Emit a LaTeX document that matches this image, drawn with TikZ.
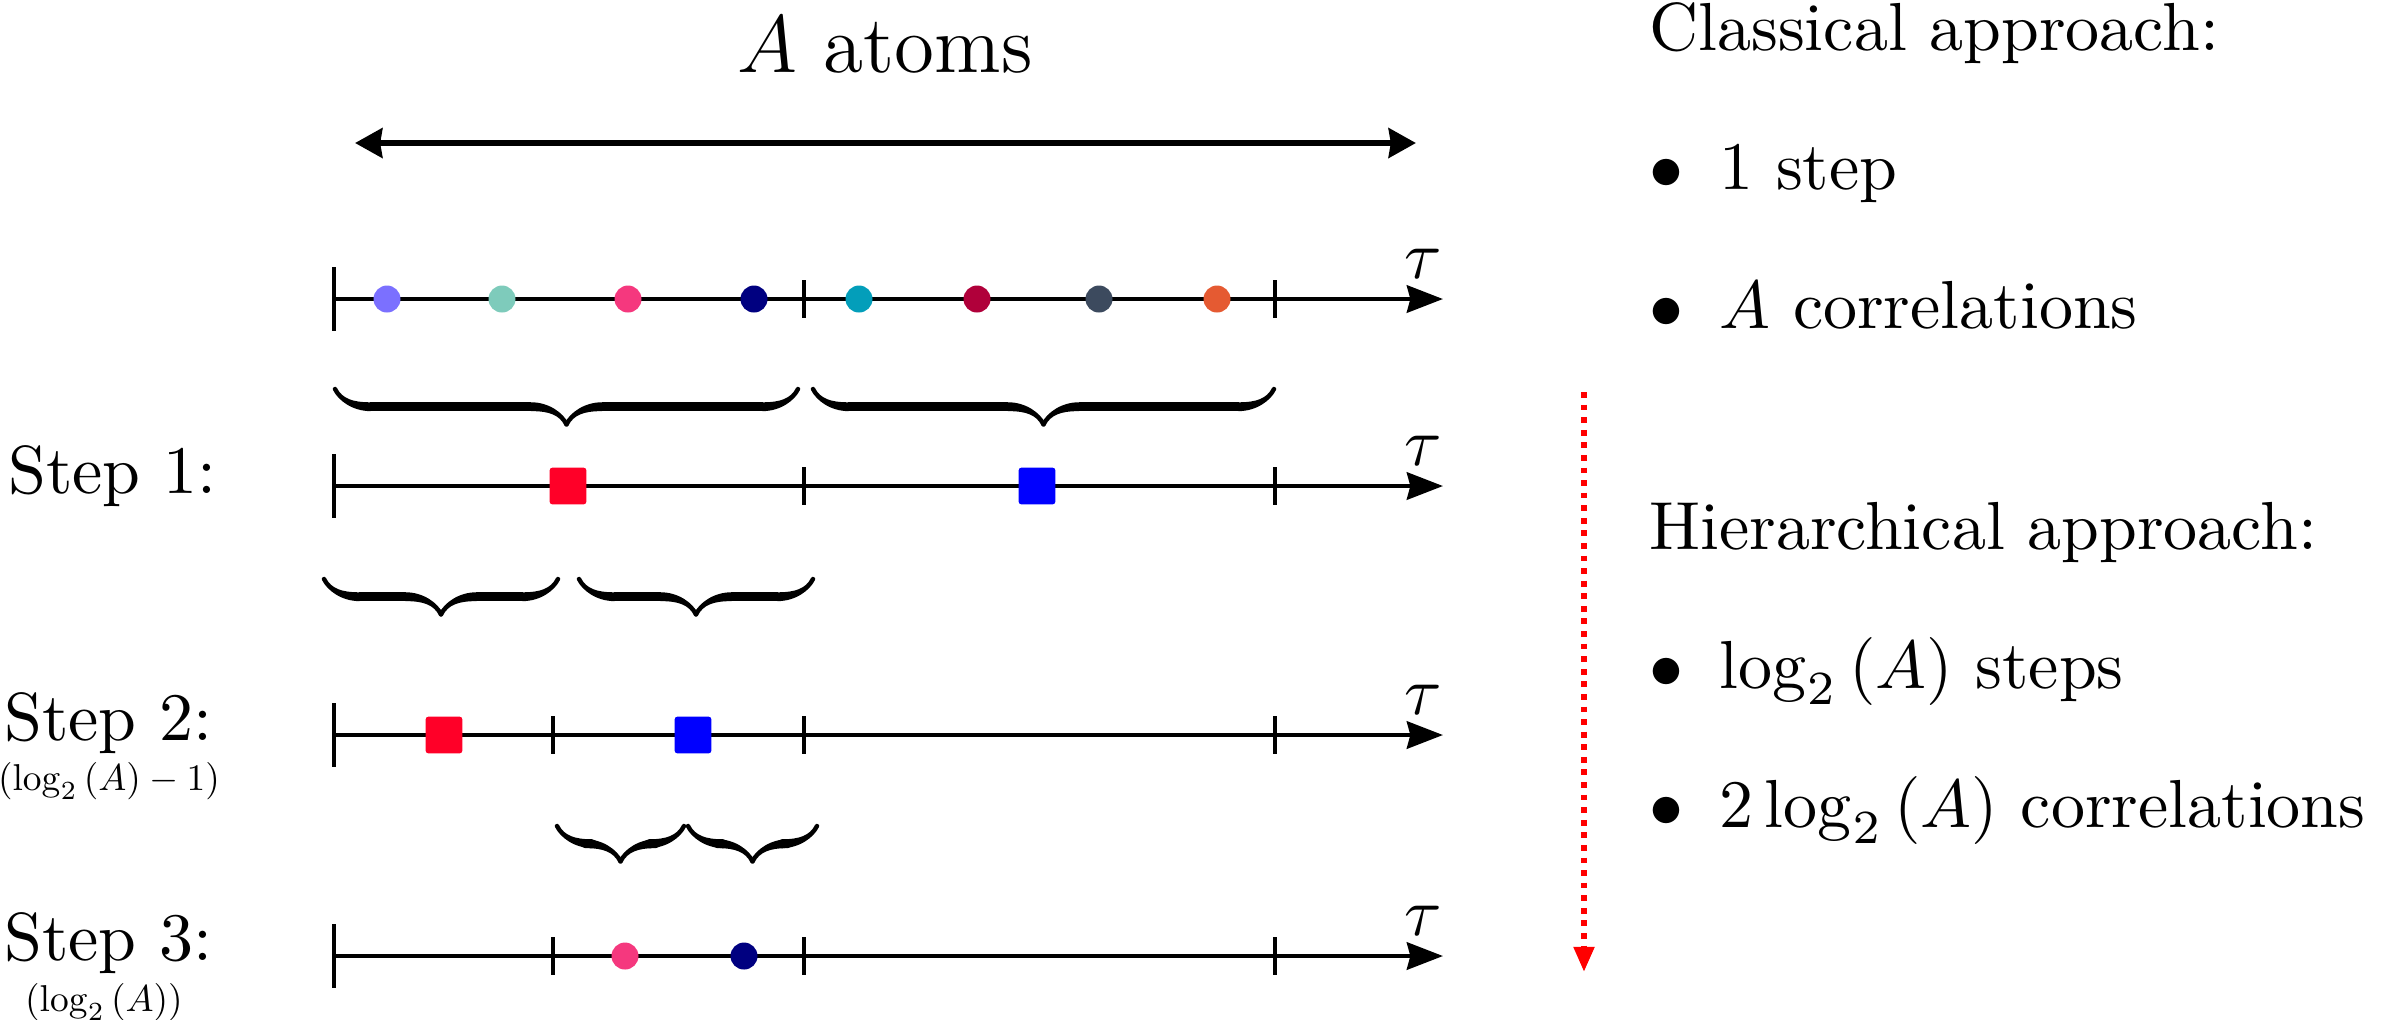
\documentclass[tikz,border=0pt]{standalone}
\usetikzlibrary{arrows.meta,decorations.pathreplacing,calligraphy}
\definecolor{c1}{HTML}{7B70FF}
\definecolor{c2}{HTML}{7ECBBB}
\definecolor{c3}{HTML}{F5387E}
\definecolor{c4}{HTML}{000080}
\definecolor{c5}{HTML}{039EBA}
\definecolor{c6}{HTML}{B0003A}
\definecolor{c7}{HTML}{3C4A5E}
\definecolor{c8}{HTML}{E55A32}
\definecolor{sqred}{HTML}{FF0028}
\definecolor{sqblue}{HTML}{0000FF}
\begin{document}
\begin{tikzpicture}[x=0.5168mm,y=-0.5168mm,
  axisline/.style={line width=0.7pt,-{Stealth[length=5.3pt,width=4pt,inset=0.5pt]}},
  spanarrow/.style={line width=0.95pt,{Stealth[length=4pt,width=4.3pt,inset=0.3pt]}-{Stealth[length=4pt,width=4.3pt,inset=0.3pt]}},
  tickmark/.style={line width=0.5pt},
  atom/.style={circle,inner sep=0pt,minimum size=3.97pt},
  block/.style={rectangle,rounded corners=0.4pt,inner sep=0pt,minimum size=5.4pt},
  cbrace/.style={decorate,decoration={calligraphic brace,amplitude=5.2pt},line width=1.3pt},
  txt/.style={inner sep=0pt,anchor=base west},
  sublabel/.style={inner sep=0pt,anchor=base},
  flow/.style={red,line width=0.85pt,densely dotted,-{Triangle[length=3.7pt,width=2.9pt]}}
]
\useasboundingbox (0,0) rectangle (238.2,101.9);

% top span
\node[inner sep=0pt,anchor=base,font=\large] (title) at (88.5,7.2) {$A$ atoms};
\coordinate (spanL) at (35.5,14.3);
\coordinate (spanR) at (141.6,14.3);
\draw[spanarrow] (spanL) -- (spanR);

% row 0: all atoms
\coordinate (r0s) at (33.4,29.9);
\coordinate (r0e) at (144.3,29.9);
\draw[axisline] (r0s) -- (r0e);
\draw[tickmark] (33.4,26.7) -- (33.4,33.1);
\draw[tickmark] (80.4,28.0) -- (80.4,31.8);
\draw[tickmark] (127.5,28.0) -- (127.5,31.8);
\node[inner sep=0pt,anchor=base] (tau0) at (142.3,27.8) {$\tau$};
\node[atom,fill=c1] (d1) at (38.7,29.9) {};
\node[atom,fill=c2] (d2) at (50.2,29.9) {};
\node[atom,fill=c3] (d3) at (62.8,29.9) {};
\node[atom,fill=c4] (d4) at (75.4,29.9) {};
\node[atom,fill=c5] (d5) at (85.9,29.9) {};
\node[atom,fill=c6] (d6) at (97.7,29.9) {};
\node[atom,fill=c7] (d7) at (109.9,29.9) {};
\node[atom,fill=c8] (d8) at (121.7,29.9) {};

% braces 1
\draw[cbrace] (79.8,38.9) -- (33.5,38.9);
\draw[cbrace] (127.4,38.9) -- (81.3,38.9);

% step 1
\node[txt] (s1) at (0.7,49.3) {Step 1:};
\coordinate (r1s) at (33.4,48.6);
\coordinate (r1e) at (144.3,48.6);
\draw[axisline] (r1s) -- (r1e);
\draw[tickmark] (33.4,45.4) -- (33.4,51.8);
\draw[tickmark] (80.4,46.7) -- (80.4,50.5);
\draw[tickmark] (127.5,46.7) -- (127.5,50.5);
\node[inner sep=0pt,anchor=base] (tau1) at (142.3,46.5) {$\tau$};
\node[block,fill=sqred] (q11) at (56.8,48.6) {};
\node[block,fill=sqblue] (q12) at (103.7,48.6) {};

% braces 2
\draw[cbrace] (55.8,57.9) -- (32.4,57.9);
\draw[cbrace] (81.3,57.9) -- (57.9,57.9);

% step 2
\node[txt] (s2) at (0.3,74.0) {Step 2:};
\node[sublabel] (s2b) at (10.9,79.0) {\scalebox{0.55}{$(\log_2\left(A\right)-1)$}};
\coordinate (r2s) at (33.4,73.5);
\coordinate (r2e) at (144.3,73.5);
\draw[axisline] (r2s) -- (r2e);
\draw[tickmark] (33.4,70.3) -- (33.4,76.7);
\draw[tickmark] (55.3,71.6) -- (55.3,75.4);
\draw[tickmark] (80.4,71.6) -- (80.4,75.4);
\draw[tickmark] (127.5,71.6) -- (127.5,75.4);
\node[inner sep=0pt,anchor=base] (tau2) at (142.3,71.4) {$\tau$};
\node[block,fill=sqred] (q21) at (44.4,73.5) {};
\node[block,fill=sqblue] (q22) at (69.3,73.5) {};

% braces 3
\draw[cbrace] (68.4,82.6) -- (55.7,82.6);
\draw[cbrace] (81.7,82.6) -- (68.8,82.6);

% step 3
\node[txt] (s3) at (0.3,96.0) {Step 3:};
\node[sublabel] (s3b) at (10.4,101.1) {\scalebox{0.55}{$(\log_2\left(A\right))$}};
\coordinate (r3s) at (33.4,95.6);
\coordinate (r3e) at (144.3,95.6);
\draw[axisline] (r3s) -- (r3e);
\draw[tickmark] (33.4,92.4) -- (33.4,98.8);
\draw[tickmark] (55.3,93.7) -- (55.3,97.5);
\draw[tickmark] (80.4,93.7) -- (80.4,97.5);
\draw[tickmark] (127.5,93.7) -- (127.5,97.5);
\node[inner sep=0pt,anchor=base] (tau3) at (142.3,93.5) {$\tau$};
\node[atom,fill=c3] (e1) at (62.5,95.6) {};
\node[atom,fill=c4] (e2) at (74.4,95.6) {};

% red flow arrow
\coordinate (flowtop) at (158.4,39.2);
\coordinate (flowbot) at (158.4,97.2);
\draw[flow] (flowtop) -- (flowbot);

% right text
\node[txt] (h1) at (164.8,5.0) {Classical approach:};
\node[txt] (b1) at (164.8,18.9) {$\bullet$};
\node[txt] (i1) at (171.8,18.9) {1 step};
\node[txt] (b2) at (164.8,32.8) {$\bullet$};
\node[txt] (i2) at (171.8,32.8) {$A$ correlations};
\node[txt] (h2) at (164.8,54.9) {Hierarchical approach:};
\node[txt] (b3) at (164.8,68.8) {$\bullet$};
\node[txt] (i3) at (171.8,68.8) {$\log_2\left(A\right)$ steps};
\node[txt] (b4) at (164.8,82.7) {$\bullet$};
\node[txt] (i4) at (171.8,82.7) {$2\log_2\left(A\right)$ correlations};
\end{tikzpicture}
\end{document}
